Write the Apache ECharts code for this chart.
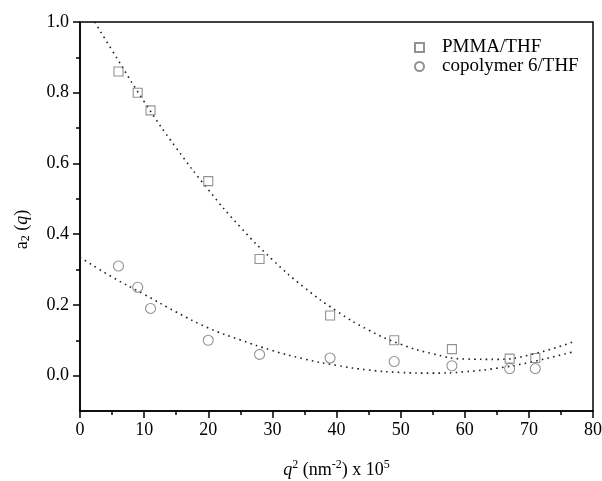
<!DOCTYPE html>
<html>
<head>
<meta charset="utf-8">
<script src="https://cdn.jsdelivr.net/npm/echarts@6/dist/echarts.min.js"></script>
<style>html,body{margin:0;padding:0;background:#fff}#c{width:602px;height:481px}</style>
</head>
<body>
<div id="c"></div>
<script>
// measured data
const qPMMA = [6, 9, 11, 20, 28, 39, 49, 58, 67, 71];
const aPMMA = [0.86, 0.80, 0.75, 0.55, 0.33, 0.17, 0.10, 0.075, 0.048, 0.05];
const qCop = [6, 9, 11, 20, 28, 39, 49, 58, 67, 71];
const aCop = [0.31, 0.25, 0.19, 0.10, 0.06, 0.05, 0.04, 0.028, 0.02, 0.02];
// dotted fit curves
const fitPMMAx = [2.3, 5, 10, 15, 20, 25, 30, 35, 40, 45, 50, 55, 60, 65, 70, 77];
const fitPMMAy = [1.0, 0.92, 0.775, 0.644, 0.526, 0.42, 0.328, 0.249, 0.183, 0.129, 0.089, 0.062, 0.047, 0.046, 0.058, 0.096];
const fitCopx = [0, 5, 10, 15, 20, 25, 30, 35, 40, 45, 50, 55, 60, 65, 70, 77];
const fitCopy = [0.335, 0.279, 0.23, 0.18, 0.135, 0.101, 0.071, 0.047, 0.029, 0.016, 0.009, 0.007, 0.011, 0.021, 0.037, 0.068];
const yMajor = [0, 0.2, 0.4, 0.6, 0.8, 1.0];
const yMinor = [0.1, 0.3, 0.5, 0.7, 0.9];
const names = ['PMMA/THF', 'copolymer 6/THF'];

const zip = (xs, ys) => xs.map((x, i) => [x, ys[i]]);
const FONT = 'Liberation Serif';
const chart = echarts.init(document.getElementById('c'), null, {renderer: 'canvas'});
chart.setOption({
  animation: false,
  backgroundColor: '#fff',
  textStyle: {fontFamily: FONT, color: '#000'},
  grid: {left: 80, right: 9, top: 22, bottom: 70, outerBoundsMode: 'none', containLabel: false, show: true, borderColor: '#000', borderWidth: 1.5, backgroundColor: 'transparent'},
  legend: {
    data: names, orient: 'vertical', left: 409, top: 33,
    itemWidth: 9, itemHeight: 9, itemGap: 0,
    textStyle: {fontFamily: FONT, fontSize: 19, color: '#000', padding: [0, 0, 0, 13], lineHeight: 19}
  },
  xAxis: {
    type: 'value', min: 0, max: 80, interval: 10,
    axisLine: {onZero: false, lineStyle: {color: '#000', width: 1.5}},
    axisTick: {inside: false, length: 7, lineStyle: {color: '#000', width: 1.5}},
    minorTick: {show: true, splitNumber: 2, length: 4, lineStyle: {color: '#000', width: 1.5}},
    axisLabel: {fontFamily: FONT, fontSize: 18, color: '#000', margin: 10},
    splitLine: {show: false},
    name: '{i|q}{sup|2}{n| (nm}{sup|-2}{n|) x 10}{sup|5}',
    nameLocation: 'middle', nameGap: 48,
    nameTextStyle: {
      fontFamily: FONT, fontSize: 18, color: '#000',
      rich: {
        i: {fontFamily: FONT, fontSize: 18, fontStyle: 'italic', color: '#000'},
        n: {fontFamily: FONT, fontSize: 18, color: '#000'},
        sup: {fontFamily: FONT, fontSize: 12, color: '#000', verticalAlign: 'top', padding: [0, 0, 10, 0]}
      }
    }
  },
  yAxis: [{
    type: 'value', min: -0.1, max: 1.0,
    axisLine: {onZero: false, lineStyle: {color: '#000', width: 1.5}},
    axisTick: {inside: false, length: 7, customValues: yMajor, lineStyle: {color: '#000', width: 1.5}},
    axisLabel: {fontFamily: FONT, fontSize: 18, color: '#000', margin: 11, customValues: yMajor, formatter: v => v.toFixed(1)},
    splitLine: {show: false},
    name: '{n|a}{sub|2}{n| (}{i|q}{n|)}',
    nameLocation: 'middle', nameGap: 48, nameRotate: 90,
    nameTextStyle: {
      fontFamily: FONT, fontSize: 18, color: '#000', padding: [0, 26, 0, 0],
      rich: {
        i: {fontFamily: FONT, fontSize: 18, fontStyle: 'italic', color: '#000'},
        n: {fontFamily: FONT, fontSize: 18, color: '#000'},
        sub: {fontFamily: FONT, fontSize: 12, color: '#000', verticalAlign: 'bottom', padding: [8, 0, 0, 0]}
      }
    }
  }, {
    type: 'value', min: -0.1, max: 1.0, position: 'left',
    axisLine: {show: false, onZero: false},
    axisTick: {inside: false, length: 4, customValues: yMinor, lineStyle: {color: '#000', width: 1.5}},
    axisLabel: {show: false},
    splitLine: {show: false}
  }],
  series: [
    {
      name: names[0], type: 'scatter', symbol: 'rect', symbolSize: 9,
      data: zip(qPMMA, aPMMA), z: 3,
      itemStyle: {color: 'rgba(255,255,255,0)', borderColor: '#777', borderWidth: 1.1}
    },
    {
      name: names[1], type: 'scatter', symbol: 'circle', symbolSize: 10,
      data: zip(qCop, aCop), z: 3,
      itemStyle: {color: 'rgba(255,255,255,0)', borderColor: '#777', borderWidth: 1.1}
    },
    {
      name: 'fit1', type: 'line', smooth: true, showSymbol: false, symbol: 'none',
      data: zip(fitPMMAx, fitPMMAy), z: 2,
      lineStyle: {color: '#222', width: 1.6, type: [1.6, 4.2]}
    },
    {
      name: 'fit2', type: 'line', smooth: true, showSymbol: false, symbol: 'none',
      data: zip(fitCopx, fitCopy), z: 2,
      lineStyle: {color: '#222', width: 1.6, type: [1.6, 4.2]}
    }
  ]
});
</script>
</body>
</html>
